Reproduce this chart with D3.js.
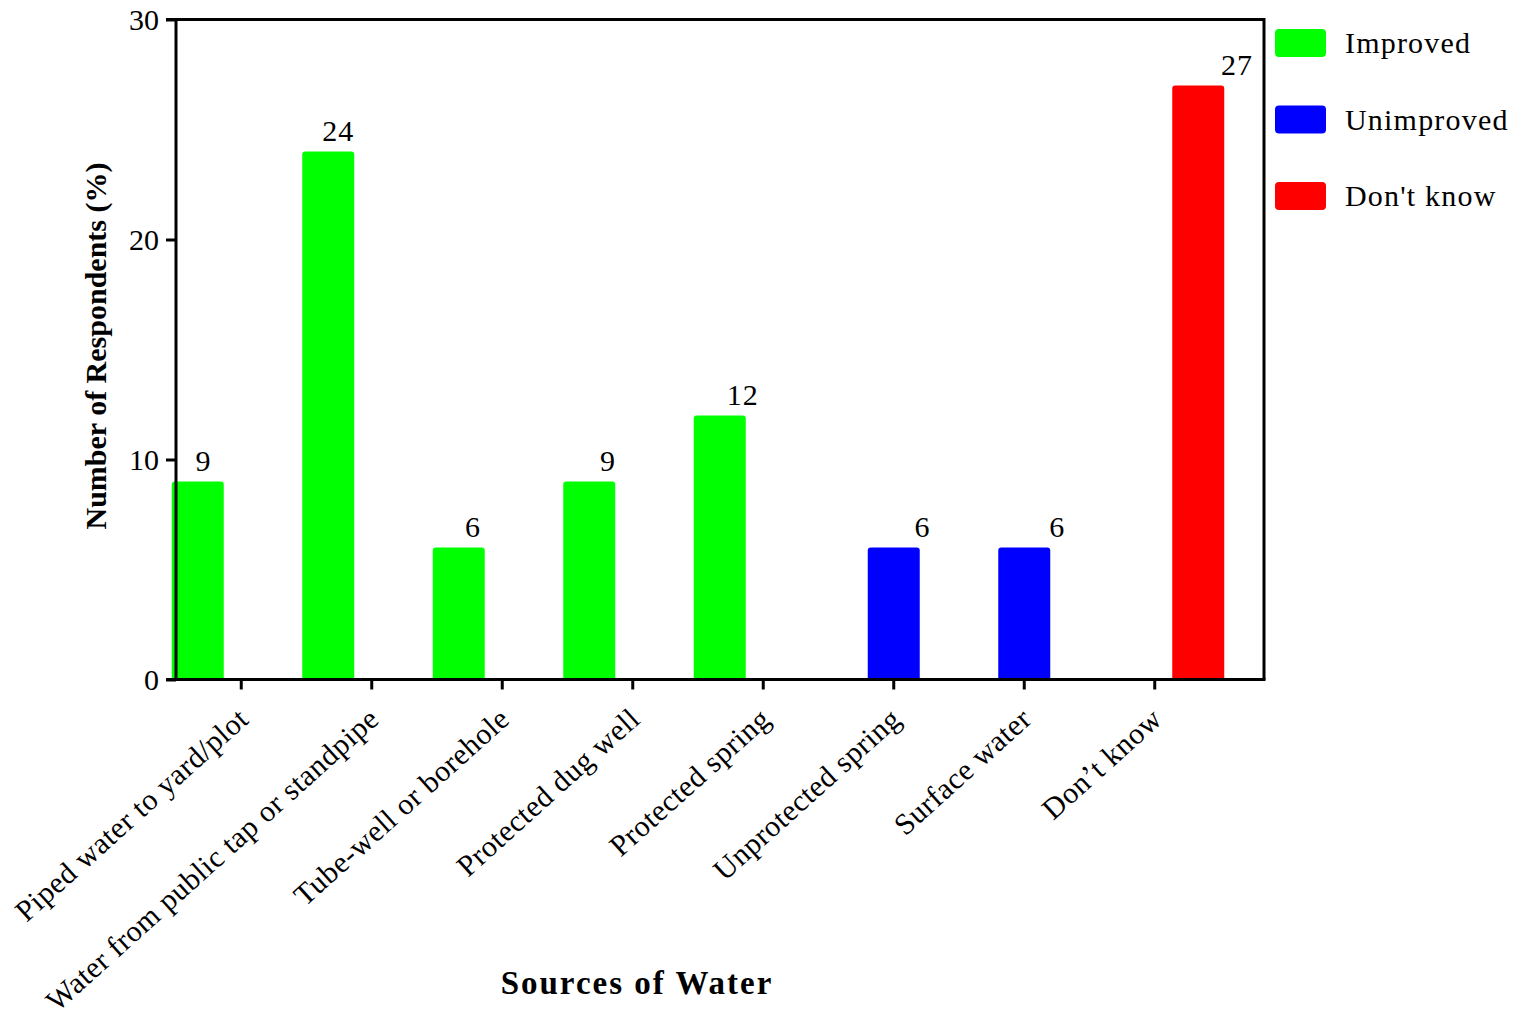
<!DOCTYPE html>
<html>
<head>
<meta charset="utf-8">
<script src="https://cdn.jsdelivr.net/npm/d3@7"></script>
<style>
  html, body { margin: 0; padding: 0; background: #fff; }
  svg { display: block; font-family: "Liberation Serif", "Times New Roman", serif; }
</style>
</head>
<body>
<svg id="chart" width="1515" height="1014"></svg>
<script>
// Sources of drinking water reported by respondents (%)
const categories = [
  "Piped water to yard/plot",
  "Water from public tap or standpipe",
  "Tube-well or borehole",
  "Protected dug well",
  "Protected spring",
  "Unprotected spring",
  "Surface water",
  "Don\u2019t know"
];
const seriesNames = ["Improved", "Unimproved", "Don't know"];
const improved   = [9, 24, 6, 9, 12, 0, 0, 0];
const unimproved = [0, 0, 0, 0, 0, 6, 6, 0];
const dontKnow   = [0, 0, 0, 0, 0, 0, 0, 27];
const yTicks = [0, 10, 20, 30];
const seriesColors = ["#00ff00", "#0000ff", "#ff0000"];

const seriesValues = [improved, unimproved, dontKnow];
const bars = [];
seriesValues.forEach((vals, si) => {
  vals.forEach((v, ci) => {
    if (v > 0) bars.push({ series: seriesNames[si], category: categories[ci], value: v });
  });
});

const svg = d3.select("#chart");

// plot frame
const plotLeft = 176, plotTop = 19.5, plotBottom = 679.5, plotRight = 1264;
const step = 130.5;

const x = d3.scaleBand()
  .domain(categories)
  .range([plotLeft, plotLeft + step * categories.length])
  .padding(0);

const xSub = d3.scalePoint()
  .domain(seriesNames)
  .range([-43.5, 43.5]);

const y = d3.scaleLinear()
  .domain([0, 30])
  .range([plotBottom, plotTop]);

const color = d3.scaleOrdinal().domain(seriesNames).range(seriesColors);

const barW = 52;
const cx = d => x(d.category) + x.bandwidth() / 2 + xSub(d.series);

// bars (rounded tops, square base)
svg.append("g")
  .selectAll("path")
  .data(bars)
  .join("path")
  .attr("fill", d => color(d.series))
  .attr("d", d => {
    const x0 = cx(d) - barW / 2, x1 = cx(d) + barW / 2;
    const y0 = y(0), y1 = y(d.value), r = 3;
    return `M${x0},${y0}V${y1 + r}Q${x0},${y1} ${x0 + r},${y1}H${x1 - r}Q${x1},${y1} ${x1},${y1 + r}V${y0}Z`;
  });

// value labels
svg.append("g")
  .selectAll("text")
  .data(bars)
  .join("text")
  .attr("x", d => cx(d) + (cx(d) - plotLeft) * 0.033 + 5)
  .attr("y", d => y(d.value) - 11)
  .attr("text-anchor", "middle")
  .attr("font-size", 30)
  .attr("letter-spacing", 1)
  .attr("fill", "#000")
  .text(d => d.value);

// y axis
const yAxis = d3.axisLeft(y).tickValues(yTicks).tickSize(10).tickPadding(7).tickFormat(d3.format("d"));
const gy = svg.append("g").attr("transform", `translate(${plotLeft},0)`).call(yAxis);
gy.select(".domain").attr("stroke", "#000").attr("stroke-width", 3).attr("d", `M0,${plotTop}V${plotBottom}`);
gy.selectAll(".tick line").attr("stroke", "#000").attr("stroke-width", 3);
gy.selectAll(".tick text").attr("font-size", 30).attr("font-family", "Liberation Serif").attr("fill", "#000").attr("dy", "0.34em");

// x axis
const xAxis = d3.axisBottom(x).tickSize(10).tickFormat("");
const gx = svg.append("g").attr("transform", `translate(0,${plotBottom})`).call(xAxis);
gx.select(".domain").attr("stroke", "#000").attr("stroke-width", 3).attr("d", `M${plotLeft - 10},0H${plotRight + 1.5}`);
gx.selectAll(".tick line").attr("stroke", "#000").attr("stroke-width", 3);

// category labels, rotated
svg.append("g")
  .selectAll("text")
  .data(categories)
  .join("text")
  .attr("transform", d => `translate(${x(d) + x.bandwidth() / 2 + 9},${plotBottom + 42}) rotate(-42)`)
  .attr("text-anchor", "end")
  .attr("font-size", 30)
  .attr("letter-spacing", 0.5)
  .attr("fill", "#000")
  .text(d => d);

// top and right frame
svg.append("path")
  .attr("d", `M${plotLeft - 10},${plotTop}H${plotRight}V${plotBottom}`)
  .attr("fill", "none")
  .attr("stroke", "#000")
  .attr("stroke-width", 3);

// axis titles
svg.append("text")
  .attr("transform", `translate(106,346) rotate(-90)`)
  .attr("text-anchor", "middle")
  .attr("font-size", 30)
  .attr("font-weight", "bold")
  .attr("fill", "#000")
  .text("Number of Respondents (%)");

svg.append("text")
  .attr("x", 637)
  .attr("y", 994)
  .attr("text-anchor", "middle")
  .attr("font-size", 33)
  .attr("font-weight", "bold")
  .attr("letter-spacing", 2)
  .attr("fill", "#000")
  .text("Sources of Water");

// legend
const legend = svg.append("g")
  .selectAll("g")
  .data(seriesNames)
  .join("g")
  .attr("transform", (d, i) => `translate(1275,${29 + i * 76.5})`);
legend.append("rect")
  .attr("width", 51).attr("height", 28).attr("rx", 4)
  .attr("fill", d => color(d));
legend.append("text")
  .attr("x", 70).attr("y", 24)
  .attr("font-size", 30)
  .attr("letter-spacing", 1.2)
  .attr("fill", "#000")
  .text(d => d);
</script>
</body>
</html>
